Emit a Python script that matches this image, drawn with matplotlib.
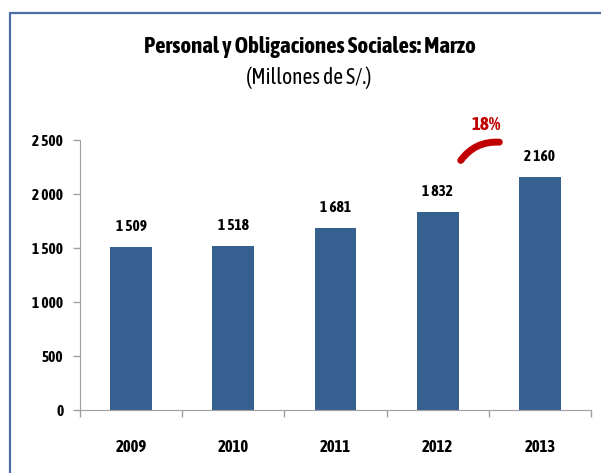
import matplotlib
matplotlib.use("Agg")
import matplotlib.pyplot as plt
from matplotlib.patches import FancyArrowPatch, Rectangle

plt.rcParams['font.family'] = ['Asap Condensed', 'DejaVu Sans']

years = ["2009", "2010", "2011", "2012", "2013"]
values = [1509, 1518, 1681, 1832, 2160]
value_labels = ["1 509", "1 518", "1 681", "1 832", "2 160"]
yticks = [0, 500, 1000, 1500, 2000, 2500]
ytick_labels = ["0", "500", "1 000", "1 500", "2 000", "2 500"]
growth_label = "18%"

fig = plt.figure(figsize=(6.01, 4.73), dpi=100)
ax = fig.add_axes([80/601, 1-410/473, 511/601, 270/473])
x = list(range(len(years)))
ax.bar(x, values, width=0.41, color="#35608f")
ax.set_xlim(-0.5, len(years) - 0.5)
ax.set_ylim(0, 2500)
ax.set_yticks(yticks)
ax.set_yticklabels(ytick_labels, fontsize=11, fontweight="bold")
ax.set_xticks(x)
ax.set_xticklabels(years, fontsize=12, fontweight="bold")
ax.tick_params(axis="x", length=0, pad=21)
ax.set_xticks([i + 0.5 for i in range(-1, len(years))], minor=True)
ax.tick_params(axis="x", which="minor", length=5, color="#a0a0a0", width=1)
ax.tick_params(axis="y", length=5, color="#a0a0a0", width=1, pad=7)
for s in ["top", "right"]:
    ax.spines[s].set_visible(False)
for s in ["left", "bottom"]:
    ax.spines[s].set_color("#a0a0a0")
for xi, v, lab in zip(x, values, value_labels):
    ax.text(xi, v + 185, lab, ha="center", va="center", fontsize=11, fontweight="bold")

arc = FancyArrowPatch((3.21, 2290), (3.63, 2478), arrowstyle="-",
                      connectionstyle="arc3,rad=-0.3", color="#c00000",
                      lw=5, capstyle="round", clip_on=False)
ax.add_patch(arc)
ax.text(3.47, 2635, growth_label, ha="center", va="center", color="#c00000",
        fontsize=13.5, fontweight="bold", clip_on=False)

fig.text(310/601, 1-47/473, "Personal y Obligaciones Sociales: Marzo", ha="center",
         va="center", fontsize=16.5, fontweight="bold")
fig.text(309/601, 1-78/473, "(Millones de S/.)", ha="center", va="center", fontsize=15.5)

fig.add_artist(Rectangle((10/601, -0.05), 1.0, 1-13/473 + 0.05, transform=fig.transFigure,
                         fill=False, edgecolor="#4a6fa5", lw=1.6))
fig.savefig("out.png", dpi=100)
